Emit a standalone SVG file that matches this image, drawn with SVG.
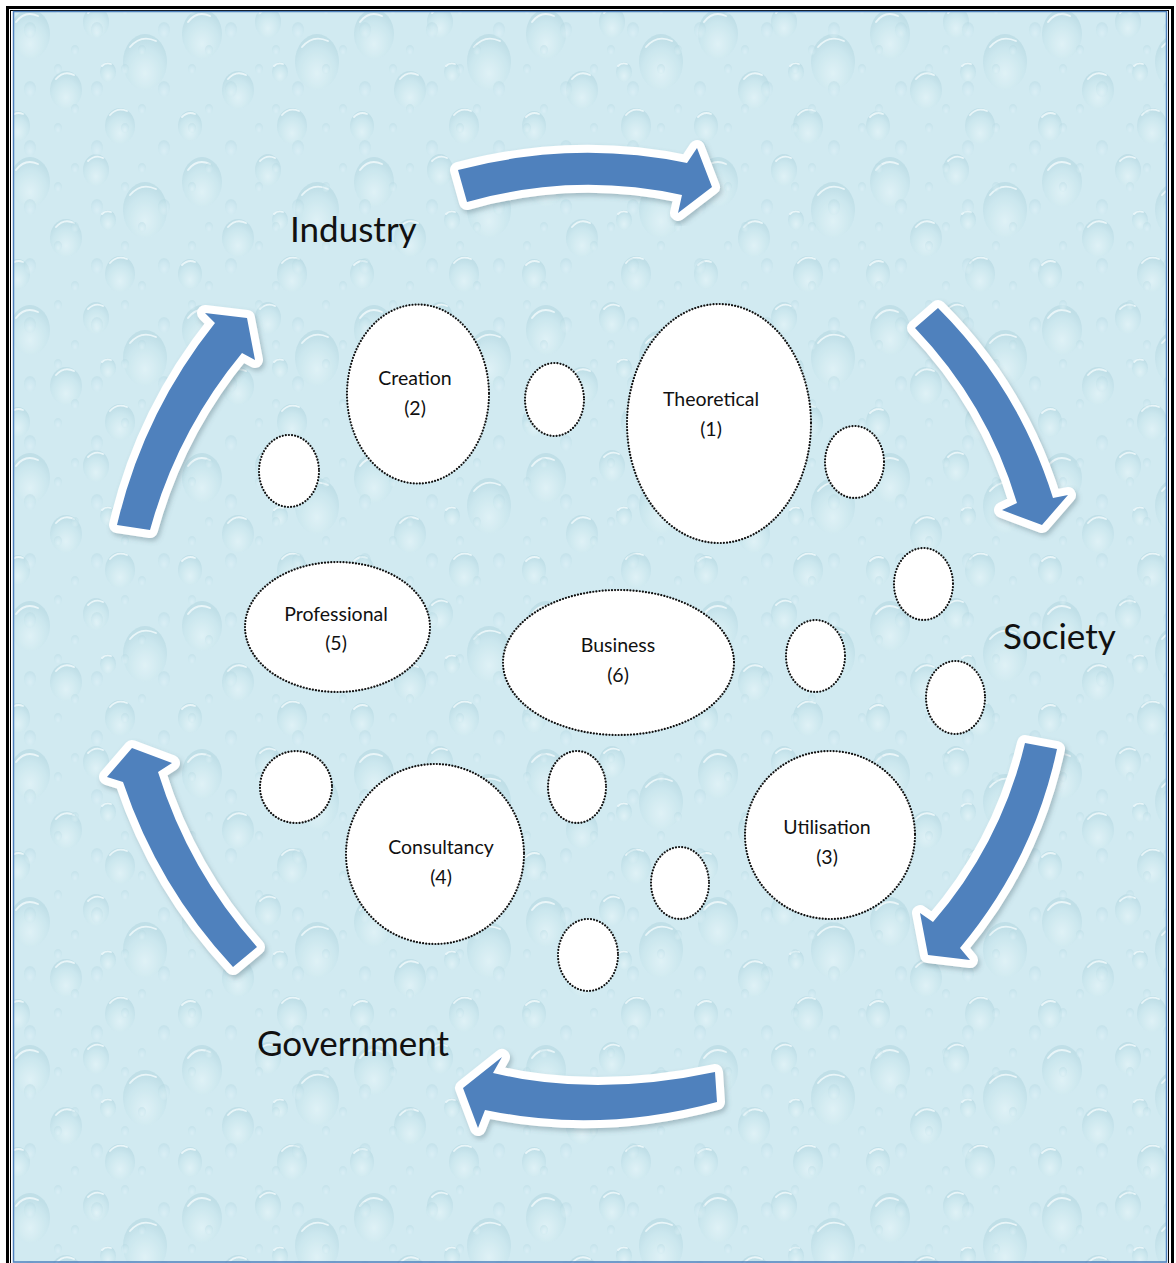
<svg xmlns="http://www.w3.org/2000/svg" width="1176" height="1263" viewBox="0 0 1176 1263">
  <defs>
    <style>
      .blob { fill: #ffffff; stroke: #111111; stroke-width: 2.2; stroke-dasharray: 0.01 3.1; stroke-linecap: round; }
      .lbl { font-family: Lato, "Open Sans", "DejaVu Sans", sans-serif; font-size: 19.5px; fill: #111111; text-anchor: middle; }
      .big { font-family: Lato, "Open Sans", "DejaVu Sans", sans-serif; font-size: 35px; fill: #111111; }
      .arrow { fill: #4f81bd; stroke: #ffffff; stroke-width: 16; stroke-linejoin: round; paint-order: stroke; filter: url(#shadow); }
    </style>
    <filter id="shadow" x="-20%" y="-20%" width="140%" height="140%">
      <feDropShadow dx="2" dy="3" stdDeviation="2.5" flood-color="#4a6470" flood-opacity="0.35"/>
    </filter>
    <radialGradient id="drop" cx="0.5" cy="0.7" r="0.62">
      <stop offset="0" stop-color="#e6f5f9"/>
      <stop offset="0.7" stop-color="#c8e5ed"/>
      <stop offset="1" stop-color="#b6d8e2"/>
    </radialGradient>
    <!-- water-drop texture: large drops plus a finer scatter -->
    <pattern id="dropsA" width="172" height="148" patternUnits="userSpaceOnUse">
      <g opacity="0.65">
        <ellipse cx="30" cy="34" rx="20" ry="25" fill="url(#drop)"/>
        <ellipse cx="96" cy="22" rx="13" ry="16" fill="url(#drop)"/>
        <ellipse cx="145" cy="62" rx="22" ry="28" fill="url(#drop)"/>
        <ellipse cx="66" cy="90" rx="16" ry="19" fill="url(#drop)"/>
        <ellipse cx="120" cy="126" rx="15" ry="18" fill="url(#drop)"/>
        <ellipse cx="18" cy="126" rx="12" ry="15" fill="url(#drop)"/>
        <ellipse cx="108" cy="72" rx="8" ry="10" fill="url(#drop)"/>
      </g>
      <g fill="none" stroke="#f0fafc" stroke-width="1.8" stroke-linecap="round" opacity="0.85">
        <path d="M16 22 q9 -12 22 -6"/>
        <path d="M88 13 q7 -7 15 -3"/>
        <path d="M130 47 q11 -13 26 -6"/>
        <path d="M56 79 q8 -9 18 -4"/>
        <path d="M110 115 q7 -8 17 -4"/>
        <path d="M10 117 q6 -6 13 -3"/>
        <path d="M102 66 q4 -4 9 -2"/>
      </g>
    </pattern>
    <pattern id="dropsB" width="67" height="59" patternUnits="userSpaceOnUse">
      <g opacity="0.4">
        <ellipse cx="30" cy="30" rx="6" ry="8" fill="url(#drop)"/>
        <ellipse cx="58" cy="10" rx="4" ry="5" fill="url(#drop)"/>
        <ellipse cx="8" cy="50" rx="4" ry="5" fill="url(#drop)"/>
      </g>
    </pattern>
  </defs>

  <!-- page and textured panel -->
  <rect x="0" y="0" width="1176" height="1263" fill="#ffffff"/>
  <rect x="13" y="11" width="1154" height="1252" fill="#d1eaf1"/>
  <rect x="13" y="11" width="1154" height="1252" fill="url(#dropsA)"/>
  <rect x="13" y="11" width="1154" height="1252" fill="url(#dropsB)"/>

  <!-- frame -->
  <rect x="7.5" y="7.5" width="1165" height="1270" fill="none" stroke="#000000" stroke-width="3"/>
  <rect x="10.5" y="10.5" width="1158" height="1262" fill="none" stroke="#000000" stroke-width="1"/>
  <rect x="13.5" y="11.5" width="1153" height="1250.5" fill="none" stroke="#4f81bd" stroke-width="1.5"/>

  <!-- cycle arrows -->
  <g id="connectors">
    <path class="arrow" d="M458,170 Q573.5,139.5 687,163 L697,148 L712,187 L678,213 L682,195 Q574,171.5 467,202 Z"/>
    <path class="arrow" d="M938,308 A462,462 0 0 1 1053,498 L1068,495 L1042,525 L1002,510 L1017,503 A430,430 0 0 0 915,328 Z"/>
    <path class="arrow" d="M1025,743 L1057,749 A458,458 0 0 1 960,948 L970,960 L928,955 L920,913 L933,922 A424,424 0 0 0 1025,743 Z"/>
    <path class="arrow" d="M715,1072 Q596,1097.5 493,1073 L502,1057 L463,1088 L478,1128 L485,1110 Q599,1134 717,1102 Z"/>
    <path class="arrow" d="M233,967 A508,508 0 0 1 123,782 L107,777 L132,748 L172,763 L158,772 A474,474 0 0 0 257,947 Z"/>
    <path class="arrow" d="M117,525 A510,510 0 0 1 215,323 L205,313 L247,318 L255,360 L242,353 A475,475 0 0 0 150,530 Z"/>
  </g>

  <!-- sector labels -->
  <g id="industry"><text class="big" x="290" y="242">Industry</text></g>
  <g id="society"><text class="big" x="1003" y="649">Society</text></g>
  <g id="government"><text class="big" x="257" y="1056">Government</text></g>

  <!-- named nodes -->
  <g id="creation">
    <ellipse class="blob" cx="418" cy="394" rx="71" ry="89.5"/>
    <text class="lbl" x="415" y="385">Creation</text>
    <text class="lbl" x="415" y="415">(2)</text>
  </g>
  <g id="theoretical">
    <ellipse class="blob" cx="719" cy="423.5" rx="92" ry="119.5"/>
    <text class="lbl" x="711" y="406">Theoretical</text>
    <text class="lbl" x="711" y="436">(1)</text>
  </g>
  <g id="professional">
    <ellipse class="blob" cx="337.5" cy="627" rx="92.5" ry="65"/>
    <text class="lbl" x="336" y="621">Professional</text>
    <text class="lbl" x="336" y="650">(5)</text>
  </g>
  <g id="business">
    <ellipse class="blob" cx="618.5" cy="662.5" rx="115.5" ry="72.5"/>
    <text class="lbl" x="618" y="652">Business</text>
    <text class="lbl" x="618" y="682">(6)</text>
  </g>
  <g id="consultancy">
    <ellipse class="blob" cx="435" cy="854" rx="89" ry="90"/>
    <text class="lbl" x="441" y="854">Consultancy</text>
    <text class="lbl" x="441" y="884">(4)</text>
  </g>
  <g id="utilisation">
    <ellipse class="blob" cx="830" cy="835" rx="85" ry="84"/>
    <text class="lbl" x="827" y="834">Utilisation</text>
    <text class="lbl" x="827" y="864">(3)</text>
  </g>

  <!-- unlabelled nodes -->
  <g id="dot-a"><ellipse class="blob" cx="554.5" cy="399.5" rx="29.5" ry="36.5"/></g>
  <g id="dot-b"><ellipse class="blob" cx="854.5" cy="462" rx="29.5" ry="36"/></g>
  <g id="dot-c"><ellipse class="blob" cx="289" cy="471" rx="30" ry="36"/></g>
  <g id="dot-d"><ellipse class="blob" cx="923.5" cy="584" rx="29.5" ry="36"/></g>
  <g id="dot-e"><ellipse class="blob" cx="815.5" cy="656" rx="29.5" ry="36"/></g>
  <g id="dot-f"><ellipse class="blob" cx="955.5" cy="697.5" rx="29.5" ry="36.5"/></g>
  <g id="dot-g"><ellipse class="blob" cx="296" cy="787" rx="36" ry="36"/></g>
  <g id="dot-h"><ellipse class="blob" cx="577" cy="787" rx="29" ry="36"/></g>
  <g id="dot-i"><ellipse class="blob" cx="680" cy="883" rx="29" ry="36"/></g>
  <g id="dot-j"><ellipse class="blob" cx="588" cy="955" rx="30" ry="36"/></g>
</svg>
